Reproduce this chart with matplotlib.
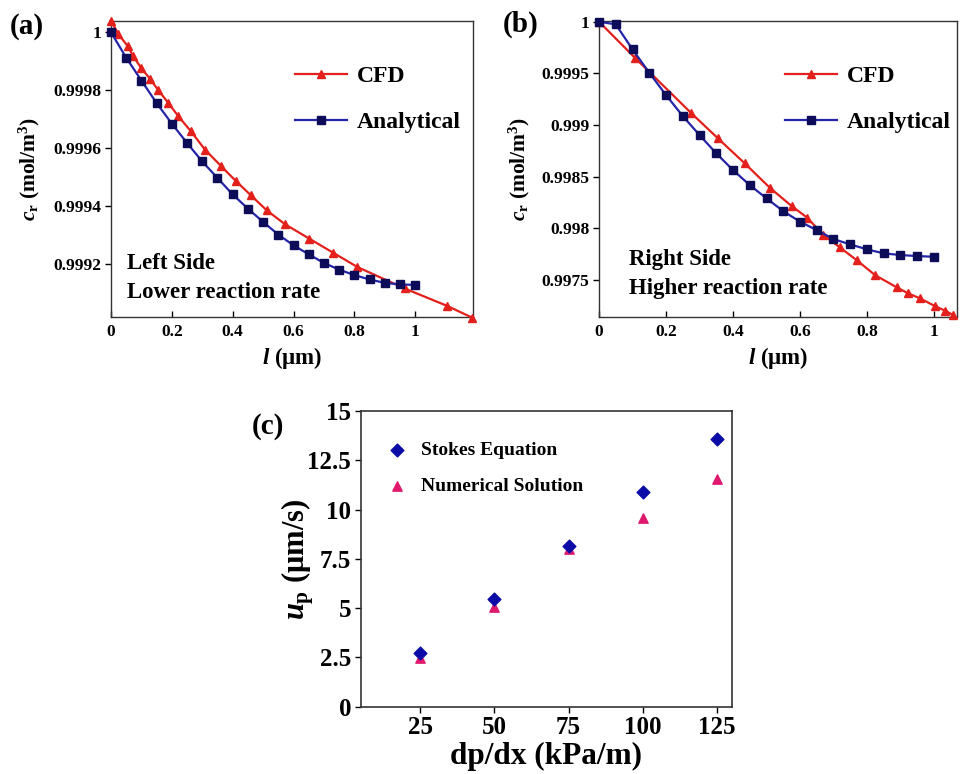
import matplotlib
matplotlib.use("Agg")
import matplotlib.pyplot as plt

plt.rcParams['font.family'] = ['Liberation Serif', 'DejaVu Serif']
plt.rcParams['font.weight'] = 'bold'
plt.rcParams['mathtext.fontset'] = 'custom'
plt.rcParams['mathtext.rm'] = 'Liberation Serif:bold'
plt.rcParams['mathtext.it'] = 'Liberation Serif:italic:bold'
plt.rcParams['mathtext.bf'] = 'Liberation Serif:bold'

# ---- (a) left side, lower reaction rate ----
a_cfd_l = [0.0, 0.024, 0.055, 0.073, 0.099, 0.128, 0.156, 0.188, 0.221, 0.263,
           0.309, 0.362, 0.411, 0.460, 0.512, 0.572, 0.652, 0.731, 0.810,
           0.965, 1.104, 1.187]
a_cfd_c = [1.00004, 0.999994, 0.999952, 0.999917, 0.999877, 0.999839, 0.999799,
           0.999756, 0.999710, 0.999657, 0.999594, 0.999537, 0.999485, 0.999436,
           0.999384, 0.999336, 0.999286, 0.999237, 0.999188, 0.999114,
           0.999054, 0.999013]
a_ana_l = [0.0, 0.05, 0.10, 0.15, 0.20, 0.25, 0.30, 0.35, 0.40, 0.45, 0.50,
           0.55, 0.60, 0.65, 0.70, 0.75, 0.80, 0.85, 0.90, 0.95, 1.00]
a_ana_c = [1.0, 0.999912, 0.999833, 0.999755, 0.999684, 0.999617, 0.999553,
           0.999496, 0.999439, 0.999390, 0.999344, 0.999300, 0.999263,
           0.999232, 0.999202, 0.999179, 0.999160, 0.999145, 0.999133,
           0.999128, 0.999126]
a_yticks = [0.9992, 0.9994, 0.9996, 0.9998, 1.0]
a_ylabels = ['0.9992', '0.9994', '0.9996', '0.9998', '1']

# ---- (b) right side, higher reaction rate ----
b_cfd_l = [0.0, 0.107, 0.276, 0.355, 0.435, 0.510, 0.575, 0.621, 0.670, 0.719,
           0.769, 0.824, 0.889, 0.923, 0.958, 1.003, 1.033, 1.058]
b_cfd_c = [1.0, 0.999651, 0.999113, 0.998871, 0.998629, 0.998393, 0.998216,
           0.998105, 0.997935, 0.997816, 0.997693, 0.997548, 0.997429,
           0.997371, 0.997323, 0.997248, 0.997203, 0.997161]
b_ana_l = [0.0, 0.05, 0.10, 0.15, 0.20, 0.25, 0.30, 0.35, 0.40, 0.45, 0.50,
           0.55, 0.60, 0.65, 0.70, 0.75, 0.80, 0.85, 0.90, 0.95, 1.00]
b_ana_c = [1.0, 0.999974, 0.999732, 0.999506, 0.999290, 0.999087, 0.998903,
           0.998726, 0.998564, 0.998419, 0.998290, 0.998167, 0.998064,
           0.997984, 0.997896, 0.997845, 0.997797, 0.997758, 0.997742,
           0.997732, 0.997725]
b_yticks = [0.9975, 0.998, 0.9985, 0.999, 0.9995, 1.0]
b_ylabels = ['0.9975', '0.998', '0.9985', '0.999', '0.9995', '1']

l_ticks = [0, 0.2, 0.4, 0.6, 0.8, 1.0]
l_labels = ['0', '0.2', '0.4', '0.6', '0.8', '1']

# ---- (c) particle velocity vs pressure gradient ----
dpdx = [25, 50, 75, 100, 125]
u_stokes = [2.72, 5.44, 8.16, 10.88, 13.60]
u_numerical = [2.45, 5.07, 8.00, 9.55, 11.55]
c_yticks = [0, 2.5, 5, 7.5, 10, 12.5, 15]
c_ylabels = ['0', '2.5', '5', '7.5', '10', '12.5', '15']

RED = '#e3201b'
BLUE_LINE = '#2424a8'
BLUE_MARK = '#0c0c58'

fig = plt.figure(figsize=(9.6, 7.74), dpi=100)
ax_a = fig.add_axes([0.1156, 0.5904, 0.3771, 0.3829])
ax_b = fig.add_axes([0.6240, 0.5908, 0.3726, 0.3825])
ax_c = fig.add_axes([0.3760, 0.0869, 0.3861, 0.3821])


def concentration_panel(ax, cfd_x, cfd_y, ana_x, ana_y, xlim, ylim,
                        yticks, ylabels, note1, note2, note_x, note_y1, note_y2,
                        leg_anchor, ylab_x):
    ax.plot(cfd_x, cfd_y, color=RED, lw=1.6, marker='^', ms=6,
            mfc=RED, mec=RED, clip_on=False, zorder=3, label='CFD')
    ax.plot(ana_x, ana_y, color=BLUE_LINE, lw=1.6, marker='s', ms=6,
            mfc=BLUE_MARK, mec=BLUE_MARK, clip_on=False, zorder=4,
            label='Analytical')
    ax.set_xlim(*xlim)
    ax.set_ylim(*ylim)
    ax.set_xticks(l_ticks)
    ax.set_xticklabels(l_labels)
    ax.set_yticks(yticks)
    ax.set_yticklabels(ylabels)
    ax.tick_params(axis='x', direction='in', length=4, width=1,
                   labelsize=12.5, pad=5)
    ax.tick_params(axis='y', direction='out', length=4, width=1,
                   labelsize=12.5, pad=3)
    for lab in ax.get_xticklabels() + ax.get_yticklabels():
        lab.set_fontweight('bold')
    for sp in ax.spines.values():
        sp.set_linewidth(1.0)
        sp.set_color('#333333')
    ax.set_xlabel(r'$l$ (μm)', fontsize=16.5, fontweight='bold')
    ax.xaxis.set_label_coords(0.5, -0.095)
    ax.set_ylabel(r'$c_{\mathrm{r}}$ (mol/m$^{3}$)', fontsize=15.5,
                  fontweight='bold')
    ax.yaxis.set_label_coords(ylab_x, 0.5)
    ax.text(note_x, note_y1, note1, transform=ax.transAxes, fontsize=16.5,
            fontweight='bold', va='center', ha='left')
    ax.text(note_x, note_y2, note2, transform=ax.transAxes, fontsize=16.5,
            fontweight='bold', va='center', ha='left')
    leg = ax.legend(loc='upper left', bbox_to_anchor=leg_anchor, frameon=False,
                    fontsize=17, handlelength=2.2, handletextpad=0.42,
                    labelspacing=1.05, borderpad=0, borderaxespad=0)
    for t in leg.get_texts():
        t.set_fontweight('bold')


concentration_panel(ax_a, a_cfd_l, a_cfd_c, a_ana_l, a_ana_c,
                    (0, 1.19), (0.999015, 1.00004), a_yticks, a_ylabels,
                    'Left Side', 'Lower reaction rate', 0.045, 0.182, 0.083,
                    (0.508, 0.849), -0.19)
concentration_panel(ax_b, b_cfd_l, b_cfd_c, b_ana_l, b_ana_c,
                    (0, 1.068), (0.997145, 1.00001), b_yticks, b_ylabels,
                    'Right Side', 'Higher reaction rate', 0.085, 0.194, 0.096,
                    (0.52, 0.849), -0.187)

# ---- panel (c) ----
ax_c.scatter(dpdx, u_stokes, marker='D', s=42, color='#0b0ba8',
             zorder=3, label='Stokes Equation')
ax_c.scatter(dpdx, u_numerical, marker='^', s=45, color='#e0186e',
             zorder=2, label='Numerical Solution')
ax_c.set_xlim(5, 130)
ax_c.set_ylim(0, 15)
ax_c.set_xticks(dpdx)
ax_c.set_xticklabels([str(v) for v in dpdx])
ax_c.set_yticks(c_yticks)
ax_c.set_yticklabels(c_ylabels)
ax_c.tick_params(direction='out', length=4, width=1, labelsize=18, pad=3)
for lab in ax_c.get_xticklabels() + ax_c.get_yticklabels():
    lab.set_fontweight('bold')
for sp in ax_c.spines.values():
    sp.set_linewidth(1.2)
    sp.set_color('#333333')
ax_c.set_xlabel('dp/dx (kPa/m)', fontsize=22.5, fontweight='bold')
ax_c.xaxis.set_label_coords(0.5, -0.119)
ax_c.set_ylabel(r'$u_{\mathrm{p}}$ (μm/s)', fontsize=22, fontweight='bold')
ax_c.yaxis.set_label_coords(-0.121, 0.5)
leg_c = ax_c.legend(loc='upper left', bbox_to_anchor=(0.07, 0.896),
                    frameon=False, fontsize=14, handlelength=1.0,
                    handletextpad=0.75, labelspacing=0.95, scatterpoints=1,
                    borderpad=0, borderaxespad=0)
for t in leg_c.get_texts():
    t.set_fontweight('bold')

# panel tags
fig.text(27 / 960, 1 - 27 / 774, '(a)', fontsize=21, fontweight='bold',
         ha='center', va='center')
fig.text(521 / 960, 1 - 24 / 774, '(b)', fontsize=21, fontweight='bold',
         ha='center', va='center')
fig.text(268 / 960, 1 - 426 / 774, '(c)', fontsize=21, fontweight='bold',
         ha='center', va='center')

fig.savefig('out.png', dpi=100)
